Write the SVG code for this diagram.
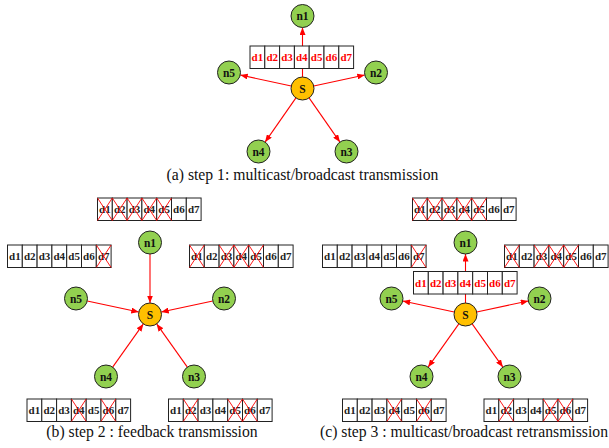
<svg xmlns="http://www.w3.org/2000/svg" width="609" height="448" viewBox="0 0 609 448">
<style>
.c{fill:#fff;stroke:#222;stroke-width:1}
.t{font-family:"Liberation Serif",serif;font-weight:bold;font-size:11px;text-anchor:middle;fill:#222}
.tr{font-family:"Liberation Serif",serif;font-weight:bold;font-size:11px;text-anchor:middle;fill:#f00}
.x{stroke:#f00;stroke-width:0.9;fill:none}
.n{fill:#92d050;stroke:#222;stroke-width:1}
.s{fill:#ffc000;stroke:#222;stroke-width:1}
.nl{font-family:"Liberation Serif",serif;font-weight:bold;font-size:11.5px;text-anchor:middle;fill:#111}
.a{stroke:#f00;stroke-width:1.1;fill:none;marker-end:url(#ah)}
.cap{font-family:"Liberation Serif",serif;font-size:15.7px;text-anchor:middle;fill:#111}
</style>
<defs>
<marker id="ah" markerUnits="userSpaceOnUse" markerWidth="8" markerHeight="6" refX="7.5" refY="3" orient="auto">
<path d="M0,0 L7.5,3 L0,6 z" fill="#f00"/>
</marker>
</defs>

<!-- connectors -->
<g id="connectors">
<!-- panel a -->
<line class="a" x1="302.5" y1="77" x2="302.5" y2="27.5"/>
<line class="a" x1="291.26" y1="86.05" x2="240.24" y2="74.95"/>
<line class="a" x1="313.74" y1="86.05" x2="364.76" y2="74.95"/>
<line class="a" x1="295.92" y1="97.93" x2="265.08" y2="142.07"/>
<line class="a" x1="309.08" y1="97.93" x2="339.92" y2="142.07"/>
<!-- panel b -->
<line class="a" x1="150" y1="254" x2="150" y2="303"/>
<line class="a" x1="87.24" y1="300.93" x2="138.76" y2="312.07"/>
<line class="a" x1="212.76" y1="300.93" x2="161.24" y2="312.07"/>
<line class="a" x1="112.66" y1="367.12" x2="143.34" y2="323.88"/>
<line class="a" x1="187.34" y1="367.12" x2="156.66" y2="323.88"/>
<!-- panel c -->
<line class="a" x1="465.5" y1="303" x2="465.5" y2="254"/>
<line class="a" x1="454.26" y1="312.07" x2="402.74" y2="300.93"/>
<line class="a" x1="476.74" y1="312.07" x2="528.26" y2="300.93"/>
<line class="a" x1="458.84" y1="323.88" x2="428.16" y2="367.12"/>
<line class="a" x1="472.16" y1="323.88" x2="502.84" y2="367.12"/>
</g>

<!-- panel a nodes -->
<g id="a-n1"><circle class="n" cx="302.5" cy="16" r="11.5"/><text class="nl" x="302.5" y="20">n1</text></g>
<g id="a-n2"><circle class="n" cx="376" cy="72.5" r="11.5"/><text class="nl" x="376" y="76.5">n2</text></g>
<g id="a-n3"><circle class="n" cx="346.5" cy="151.5" r="11.5"/><text class="nl" x="346.5" y="155.5">n3</text></g>
<g id="a-n4"><circle class="n" cx="258.5" cy="151.5" r="11.5"/><text class="nl" x="258.5" y="155.5">n4</text></g>
<g id="a-n5"><circle class="n" cx="229" cy="72.5" r="11.5"/><text class="nl" x="229" y="76.5">n5</text></g>
<g id="a-S"><circle class="s" cx="302.5" cy="88.5" r="11.5"/><text class="nl" x="302.5" y="92.5">S</text></g>

<g id="a-packet" transform="translate(250,46)">
<rect class="c" x="0" y="0" width="14.8" height="22.5"/><rect class="c" x="14.8" y="0" width="14.8" height="22.5"/><rect class="c" x="29.6" y="0" width="14.8" height="22.5"/><rect class="c" x="44.4" y="0" width="14.8" height="22.5"/><rect class="c" x="59.2" y="0" width="14.8" height="22.5"/><rect class="c" x="74" y="0" width="14.8" height="22.5"/><rect class="c" x="88.8" y="0" width="14.8" height="22.5"/>
<text class="tr" x="7.4" y="15">d1</text><text class="tr" x="22.2" y="15">d2</text><text class="tr" x="37" y="15">d3</text><text class="tr" x="51.8" y="15">d4</text><text class="tr" x="66.6" y="15">d5</text><text class="tr" x="81.4" y="15">d6</text><text class="tr" x="96.2" y="15">d7</text>
</g>
<text class="cap" x="302.5" y="180">(a) step 1: multicast/broadcast transmission</text>

<!-- panel b nodes -->
<g id="b-n1"><circle class="n" cx="150" cy="242.5" r="11.5"/><text class="nl" x="150" y="246.5">n1</text></g>
<g id="b-n2"><circle class="n" cx="224" cy="298.5" r="11.5"/><text class="nl" x="224" y="302.5">n2</text></g>
<g id="b-n3"><circle class="n" cx="194" cy="376.5" r="11.5"/><text class="nl" x="194" y="380.5">n3</text></g>
<g id="b-n4"><circle class="n" cx="106" cy="376.5" r="11.5"/><text class="nl" x="106" y="380.5">n4</text></g>
<g id="b-n5"><circle class="n" cx="76" cy="298.5" r="11.5"/><text class="nl" x="76" y="302.5">n5</text></g>
<g id="b-S"><circle class="s" cx="150" cy="314.5" r="11.5"/><text class="nl" x="150" y="318.5">S</text></g>

<!-- b top (n1): d1-d5 crossed -->
<g id="b-buf1" transform="translate(97.5,198)">
<rect class="c" x="0" y="0" width="14.8" height="22.5"/><rect class="c" x="14.8" y="0" width="14.8" height="22.5"/><rect class="c" x="29.6" y="0" width="14.8" height="22.5"/><rect class="c" x="44.4" y="0" width="14.8" height="22.5"/><rect class="c" x="59.2" y="0" width="14.8" height="22.5"/><rect class="c" x="74" y="0" width="14.8" height="22.5"/><rect class="c" x="88.8" y="0" width="14.8" height="22.5"/>
<text class="t" x="7.4" y="15">d1</text><text class="t" x="22.2" y="15">d2</text><text class="t" x="37" y="15">d3</text><text class="t" x="51.8" y="15">d4</text><text class="t" x="66.6" y="15">d5</text><text class="t" x="81.4" y="15">d6</text><text class="t" x="96.2" y="15">d7</text>
<path class="x" d="M0,0 L14.8,22.5 M14.8,0 L0,22.5 M14.8,0 L29.6,22.5 M29.6,0 L14.8,22.5 M29.6,0 L44.4,22.5 M44.4,0 L29.6,22.5 M44.4,0 L59.2,22.5 M59.2,0 L44.4,22.5 M59.2,0 L74,22.5 M74,0 L59.2,22.5"/>
</g>
<!-- b left (n5): d7 crossed -->
<g id="b-buf5" transform="translate(7.5,245)">
<rect class="c" x="0" y="0" width="14.8" height="22.5"/><rect class="c" x="14.8" y="0" width="14.8" height="22.5"/><rect class="c" x="29.6" y="0" width="14.8" height="22.5"/><rect class="c" x="44.4" y="0" width="14.8" height="22.5"/><rect class="c" x="59.2" y="0" width="14.8" height="22.5"/><rect class="c" x="74" y="0" width="14.8" height="22.5"/><rect class="c" x="88.8" y="0" width="14.8" height="22.5"/>
<text class="t" x="7.4" y="15">d1</text><text class="t" x="22.2" y="15">d2</text><text class="t" x="37" y="15">d3</text><text class="t" x="51.8" y="15">d4</text><text class="t" x="66.6" y="15">d5</text><text class="t" x="81.4" y="15">d6</text><text class="t" x="96.2" y="15">d7</text>
<path class="x" d="M88.8,0 L103.6,22.5 M103.6,0 L88.8,22.5"/>
</g>
<!-- b right (n2): d1,d3,d4,d5 crossed -->
<g id="b-buf2" transform="translate(189.5,245)">
<rect class="c" x="0" y="0" width="14.8" height="22.5"/><rect class="c" x="14.8" y="0" width="14.8" height="22.5"/><rect class="c" x="29.6" y="0" width="14.8" height="22.5"/><rect class="c" x="44.4" y="0" width="14.8" height="22.5"/><rect class="c" x="59.2" y="0" width="14.8" height="22.5"/><rect class="c" x="74" y="0" width="14.8" height="22.5"/><rect class="c" x="88.8" y="0" width="14.8" height="22.5"/>
<text class="t" x="7.4" y="15">d1</text><text class="t" x="22.2" y="15">d2</text><text class="t" x="37" y="15">d3</text><text class="t" x="51.8" y="15">d4</text><text class="t" x="66.6" y="15">d5</text><text class="t" x="81.4" y="15">d6</text><text class="t" x="96.2" y="15">d7</text>
<path class="x" d="M0,0 L14.8,22.5 M14.8,0 L0,22.5 M29.6,0 L44.4,22.5 M44.4,0 L29.6,22.5 M44.4,0 L59.2,22.5 M59.2,0 L44.4,22.5 M59.2,0 L74,22.5 M74,0 L59.2,22.5"/>
</g>
<!-- b bottom-left (n4): d4,d6 crossed -->
<g id="b-buf4" transform="translate(27,399)">
<rect class="c" x="0" y="0" width="14.8" height="22.5"/><rect class="c" x="14.8" y="0" width="14.8" height="22.5"/><rect class="c" x="29.6" y="0" width="14.8" height="22.5"/><rect class="c" x="44.4" y="0" width="14.8" height="22.5"/><rect class="c" x="59.2" y="0" width="14.8" height="22.5"/><rect class="c" x="74" y="0" width="14.8" height="22.5"/><rect class="c" x="88.8" y="0" width="14.8" height="22.5"/>
<text class="t" x="7.4" y="15">d1</text><text class="t" x="22.2" y="15">d2</text><text class="t" x="37" y="15">d3</text><text class="t" x="51.8" y="15">d4</text><text class="t" x="66.6" y="15">d5</text><text class="t" x="81.4" y="15">d6</text><text class="t" x="96.2" y="15">d7</text>
<path class="x" d="M44.4,0 L59.2,22.5 M59.2,0 L44.4,22.5 M74,0 L88.8,22.5 M88.8,0 L74,22.5"/>
</g>
<!-- b bottom-right (n3): d2,d5,d6 crossed -->
<g id="b-buf3" transform="translate(168.5,399)">
<rect class="c" x="0" y="0" width="14.8" height="22.5"/><rect class="c" x="14.8" y="0" width="14.8" height="22.5"/><rect class="c" x="29.6" y="0" width="14.8" height="22.5"/><rect class="c" x="44.4" y="0" width="14.8" height="22.5"/><rect class="c" x="59.2" y="0" width="14.8" height="22.5"/><rect class="c" x="74" y="0" width="14.8" height="22.5"/><rect class="c" x="88.8" y="0" width="14.8" height="22.5"/>
<text class="t" x="7.4" y="15">d1</text><text class="t" x="22.2" y="15">d2</text><text class="t" x="37" y="15">d3</text><text class="t" x="51.8" y="15">d4</text><text class="t" x="66.6" y="15">d5</text><text class="t" x="81.4" y="15">d6</text><text class="t" x="96.2" y="15">d7</text>
<path class="x" d="M14.8,0 L29.6,22.5 M29.6,0 L14.8,22.5 M59.2,0 L74,22.5 M74,0 L59.2,22.5 M74,0 L88.8,22.5 M88.8,0 L74,22.5"/>
</g>
<text class="cap" x="152" y="437">(b) step 2 : feedback transmission</text>

<!-- panel c nodes -->
<g id="c-n1"><circle class="n" cx="465.5" cy="242.5" r="11.5"/><text class="nl" x="465.5" y="246.5">n1</text></g>
<g id="c-n2"><circle class="n" cx="539.5" cy="298.5" r="11.5"/><text class="nl" x="539.5" y="302.5">n2</text></g>
<g id="c-n3"><circle class="n" cx="509.5" cy="376.5" r="11.5"/><text class="nl" x="509.5" y="380.5">n3</text></g>
<g id="c-n4"><circle class="n" cx="421.5" cy="376.5" r="11.5"/><text class="nl" x="421.5" y="380.5">n4</text></g>
<g id="c-n5"><circle class="n" cx="391.5" cy="298.5" r="11.5"/><text class="nl" x="391.5" y="302.5">n5</text></g>
<g id="c-S"><circle class="s" cx="465.5" cy="314.5" r="11.5"/><text class="nl" x="465.5" y="318.5">S</text></g>

<g id="c-buf1" transform="translate(412.5,198)">
<rect class="c" x="0" y="0" width="14.8" height="22.5"/><rect class="c" x="14.8" y="0" width="14.8" height="22.5"/><rect class="c" x="29.6" y="0" width="14.8" height="22.5"/><rect class="c" x="44.4" y="0" width="14.8" height="22.5"/><rect class="c" x="59.2" y="0" width="14.8" height="22.5"/><rect class="c" x="74" y="0" width="14.8" height="22.5"/><rect class="c" x="88.8" y="0" width="14.8" height="22.5"/>
<text class="t" x="7.4" y="15">d1</text><text class="t" x="22.2" y="15">d2</text><text class="t" x="37" y="15">d3</text><text class="t" x="51.8" y="15">d4</text><text class="t" x="66.6" y="15">d5</text><text class="t" x="81.4" y="15">d6</text><text class="t" x="96.2" y="15">d7</text>
<path class="x" d="M0,0 L14.8,22.5 M14.8,0 L0,22.5 M14.8,0 L29.6,22.5 M29.6,0 L14.8,22.5 M29.6,0 L44.4,22.5 M44.4,0 L29.6,22.5 M44.4,0 L59.2,22.5 M59.2,0 L44.4,22.5 M59.2,0 L74,22.5 M74,0 L59.2,22.5"/>
</g>
<g id="c-buf5" transform="translate(322.5,245)">
<rect class="c" x="0" y="0" width="14.8" height="22.5"/><rect class="c" x="14.8" y="0" width="14.8" height="22.5"/><rect class="c" x="29.6" y="0" width="14.8" height="22.5"/><rect class="c" x="44.4" y="0" width="14.8" height="22.5"/><rect class="c" x="59.2" y="0" width="14.8" height="22.5"/><rect class="c" x="74" y="0" width="14.8" height="22.5"/><rect class="c" x="88.8" y="0" width="14.8" height="22.5"/>
<text class="t" x="7.4" y="15">d1</text><text class="t" x="22.2" y="15">d2</text><text class="t" x="37" y="15">d3</text><text class="t" x="51.8" y="15">d4</text><text class="t" x="66.6" y="15">d5</text><text class="t" x="81.4" y="15">d6</text><text class="t" x="96.2" y="15">d7</text>
<path class="x" d="M88.8,0 L103.6,22.5 M103.6,0 L88.8,22.5"/>
</g>
<g id="c-buf2" transform="translate(504.5,245)">
<rect class="c" x="0" y="0" width="14.8" height="22.5"/><rect class="c" x="14.8" y="0" width="14.8" height="22.5"/><rect class="c" x="29.6" y="0" width="14.8" height="22.5"/><rect class="c" x="44.4" y="0" width="14.8" height="22.5"/><rect class="c" x="59.2" y="0" width="14.8" height="22.5"/><rect class="c" x="74" y="0" width="14.8" height="22.5"/><rect class="c" x="88.8" y="0" width="14.8" height="22.5"/>
<text class="t" x="7.4" y="15">d1</text><text class="t" x="22.2" y="15">d2</text><text class="t" x="37" y="15">d3</text><text class="t" x="51.8" y="15">d4</text><text class="t" x="66.6" y="15">d5</text><text class="t" x="81.4" y="15">d6</text><text class="t" x="96.2" y="15">d7</text>
<path class="x" d="M0,0 L14.8,22.5 M14.8,0 L0,22.5 M29.6,0 L44.4,22.5 M44.4,0 L29.6,22.5 M44.4,0 L59.2,22.5 M59.2,0 L44.4,22.5 M59.2,0 L74,22.5 M74,0 L59.2,22.5"/>
</g>
<g id="c-packet" transform="translate(413.5,271.5)">
<rect class="c" x="0" y="0" width="14.8" height="22.5"/><rect class="c" x="14.8" y="0" width="14.8" height="22.5"/><rect class="c" x="29.6" y="0" width="14.8" height="22.5"/><rect class="c" x="44.4" y="0" width="14.8" height="22.5"/><rect class="c" x="59.2" y="0" width="14.8" height="22.5"/><rect class="c" x="74" y="0" width="14.8" height="22.5"/><rect class="c" x="88.8" y="0" width="14.8" height="22.5"/>
<text class="tr" x="7.4" y="15">d1</text><text class="tr" x="22.2" y="15">d2</text><text class="tr" x="37" y="15">d3</text><text class="tr" x="51.8" y="15">d4</text><text class="tr" x="66.6" y="15">d5</text><text class="tr" x="81.4" y="15">d6</text><text class="tr" x="96.2" y="15">d7</text>
</g>
<g id="c-buf4" transform="translate(342.5,399)">
<rect class="c" x="0" y="0" width="14.8" height="22.5"/><rect class="c" x="14.8" y="0" width="14.8" height="22.5"/><rect class="c" x="29.6" y="0" width="14.8" height="22.5"/><rect class="c" x="44.4" y="0" width="14.8" height="22.5"/><rect class="c" x="59.2" y="0" width="14.8" height="22.5"/><rect class="c" x="74" y="0" width="14.8" height="22.5"/><rect class="c" x="88.8" y="0" width="14.8" height="22.5"/>
<text class="t" x="7.4" y="15">d1</text><text class="t" x="22.2" y="15">d2</text><text class="t" x="37" y="15">d3</text><text class="t" x="51.8" y="15">d4</text><text class="t" x="66.6" y="15">d5</text><text class="t" x="81.4" y="15">d6</text><text class="t" x="96.2" y="15">d7</text>
<path class="x" d="M44.4,0 L59.2,22.5 M59.2,0 L44.4,22.5 M74,0 L88.8,22.5 M88.8,0 L74,22.5"/>
</g>
<g id="c-buf3" transform="translate(484,399)">
<rect class="c" x="0" y="0" width="14.8" height="22.5"/><rect class="c" x="14.8" y="0" width="14.8" height="22.5"/><rect class="c" x="29.6" y="0" width="14.8" height="22.5"/><rect class="c" x="44.4" y="0" width="14.8" height="22.5"/><rect class="c" x="59.2" y="0" width="14.8" height="22.5"/><rect class="c" x="74" y="0" width="14.8" height="22.5"/><rect class="c" x="88.8" y="0" width="14.8" height="22.5"/>
<text class="t" x="7.4" y="15">d1</text><text class="t" x="22.2" y="15">d2</text><text class="t" x="37" y="15">d3</text><text class="t" x="51.8" y="15">d4</text><text class="t" x="66.6" y="15">d5</text><text class="t" x="81.4" y="15">d6</text><text class="t" x="96.2" y="15">d7</text>
<path class="x" d="M14.8,0 L29.6,22.5 M29.6,0 L14.8,22.5 M59.2,0 L74,22.5 M74,0 L59.2,22.5 M74,0 L88.8,22.5 M88.8,0 L74,22.5"/>
</g>
<text class="cap" x="464" y="437">(c) step 3 : multicast/broadcast retransmission</text>
</svg>
